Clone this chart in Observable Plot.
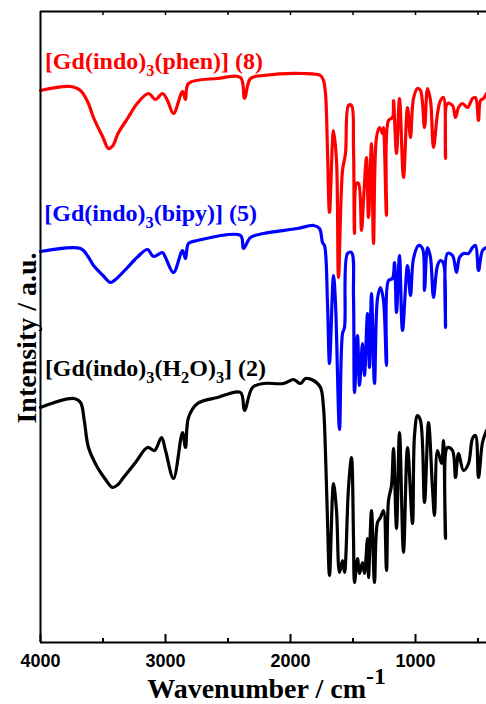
<!DOCTYPE html>
<html><head><meta charset="utf-8">
<script src="https://cdn.jsdelivr.net/npm/d3@7"></script>
<script src="https://cdn.jsdelivr.net/npm/@observablehq/plot@0.6"></script>
<style>body{margin:0;background:#fff}#chart{width:486px;height:704px;overflow:hidden}</style>
</head><body><div id="chart"></div>
<script>
// Series names and colours
const seriesNames = ["[Gd(indo)_3(phen)] (8)", "[Gd(indo)_3(bipy)] (5)", "[Gd(indo)_3(H_2O)_3] (2)"];
const seriesColors = ["#ff0000", "#0000ff", "#000000"];
const labelWn = [3965, 3970, 3965];
const labelInt = [574, 422, 267];

// Wavenumber (cm-1) and intensity (a.u., offset) per series
const wnPhen = [4000,3760,3680,3620,3576,3500,3456,3420,3380,3304,3220,3136,3080,3024,2984,2936,2864,2840,2816,2584,2400,2368,2320,2216,1896,1760,1736,1720,1704,1688,1656,1632,1616,1584,1560,1536,1512,1496,1488,1472,1456,1432,1416,1392,1376,1352,1336,1312,1288,1264,1256,1232,1216,1184,1176,1152,1128,1096,1064,1040,1016,984,960,928,904,880,856,824,800,776,760,744,704,680,656,624,584,544,520,496,480,456,432];
const intPhen = [552,556,552,540,525,505,494,497,509,524,540,549,543,549,542,529,551,543,559,564,565,544,564,567,569,567,562,549,492,430,512,482,365,472,489,537,537,495,409,459,459,412,442,485,425,499,399,505,515,509,515,427,522,525,542,489,544,465,535,505,544,554,552,515,554,542,495,529,542,545,484,539,537,525,535,539,535,544,545,522,542,544,549];

const wnBipy = [4000,3680,3620,3576,3500,3440,3400,3304,3220,3144,3096,3024,3000,2936,2864,2840,2816,2744,2400,2376,2320,2216,1944,1816,1768,1744,1728,1704,1688,1656,1640,1608,1584,1568,1544,1512,1496,1488,1464,1448,1424,1408,1384,1368,1352,1328,1304,1280,1256,1232,1216,1184,1168,1152,1128,1104,1064,1040,1016,976,944,928,904,880,856,824,800,776,760,744,704,672,648,616,576,544,520,496,464,432];
const intBipy = [391,394,386,377,367,360,363,375,386,393,386,390,385,370,392,384,399,402,407,394,405,409,414,417,414,400,397,339,279,367,339,213,309,315,389,390,345,250,307,257,299,267,329,275,349,259,344,355,342,277,362,364,380,330,387,312,377,347,384,397,394,352,395,385,345,377,382,379,315,389,387,370,385,389,389,395,397,372,392,395];

const wnH2O = [4000,3736,3680,3650,3616,3544,3480,3424,3380,3336,3240,3144,3088,3032,3000,2936,2864,2840,2816,2744,2584,2400,2368,2304,2216,2056,1976,1920,1880,1816,1760,1736,1720,1704,1688,1656,1632,1608,1584,1568,1536,1512,1496,1488,1464,1448,1424,1408,1384,1376,1352,1328,1304,1280,1256,1232,1216,1192,1176,1152,1128,1096,1064,1024,1008,984,960,928,896,864,848,824,792,776,760,744,704,680,656,616,576,544,520,496,464,432];
const intH2O = [235,244,240,222,195,175,163,155,158,165,180,195,192,205,192,164,210,195,225,239,245,250,232,255,259,259,263,259,264,262,255,235,189,122,67,159,132,70,82,70,155,185,105,60,84,69,80,69,104,65,132,60,120,125,132,72,142,157,194,114,210,90,195,119,207,227,222,140,220,154,127,192,179,202,104,195,192,165,189,172,179,204,207,165,200,212];

// Axis ticks
const majorTicks = [4000, 3000, 2000, 1000];
const minorTicks = [3500, 2500, 1500, 500];
const allTicks = [4000, 3500, 3000, 2500, 2000, 1500, 1000, 500];
const xTitle = "Wavenumber / cm^{-1}";
const yTitle = "Intensity / a.u.";

const wnLists = [wnPhen, wnBipy, wnH2O];
const intLists = [intPhen, intBipy, intH2O];
const rows = [];
seriesNames.forEach((name, k) => {
  wnLists[k].forEach((w, i) => rows.push({series: name, wn: w, val: intLists[k][i]}));
});
const labels = seriesNames.map((name, k) => ({name, wn: labelWn[k], val: labelInt[k], color: seriesColors[k]}));

const serif = "'Liberation Serif','Times New Roman',serif";
const sans = "'Liberation Sans',Arial,sans-serif";

const chart = Plot.plot({
  width: 486, height: 704,
  marginLeft: 40, marginRight: 0, marginTop: 11, marginBottom: 62,
  x: {domain: [4000, 432], axis: null},
  y: {domain: [0, 631], axis: null},
  color: {domain: seriesNames, range: seriesColors},
  marks: [
    Plot.lineY(rows, {x: "wn", y: "val", z: "series", stroke: "series", strokeWidth: 3.2, curve: "catmull-rom", strokeLinejoin: "round", strokeLinecap: "round"}),
    Plot.ruleY([0], {stroke: "#000", strokeWidth: 2}),
    Plot.ruleY([631], {stroke: "#000", strokeWidth: 2}),
    Plot.ruleX([4000], {y1: 0, y2: 631, stroke: "#000", strokeWidth: 2}),
    Plot.ruleX(majorTicks, {y1: 0, y2: 8, stroke: "#000", strokeWidth: 2}),
    Plot.ruleX(minorTicks, {y1: 0, y2: 4, stroke: "#000", strokeWidth: 2}),
    Plot.ruleX(allTicks.filter(d => d !== 4000), {y1: 627, y2: 631, stroke: "#000", strokeWidth: 1.5}),
    Plot.text(majorTicks, {x: d => d, y: 0, dy: 24, text: d => String(d), lineAnchor: "bottom", fontFamily: sans, fontWeight: "bold", fontSize: 18, fill: "#000"}),
    Plot.text(labels, {x: "wn", y: "val", text: "name", fill: d => d.color, textAnchor: "start", lineAnchor: "bottom", fontFamily: serif, fontWeight: "bold", fontSize: 24}),
    Plot.text([xTitle], {frameAnchor: "bottom", dy: 55, dx: 3, lineAnchor: "bottom", fontFamily: serif, fontWeight: "bold", fontSize: 28, fill: "#000"}),
    Plot.text([yTitle], {frameAnchor: "left", rotate: -90, dx: -5, dy: 11, lineAnchor: "bottom", textAnchor: "middle", fontFamily: serif, fontWeight: "bold", fontSize: 28, fill: "#000"})
  ]
});
document.getElementById("chart").appendChild(chart);

// Render sub/superscripts
const NS = "http://www.w3.org/2000/svg";
function rich(el) {
  const str = el.textContent;
  if (!/[_^]/.test(str)) return;
  const fs = parseFloat(getComputedStyle(el).fontSize) || 20;
  el.textContent = "";
  const re = /([_^])(\{[^}]*\}|.)/g;
  let last = 0, shift = 0, m;
  const add = (t, s, small) => {
    const ts = document.createElementNS(NS, "tspan");
    ts.textContent = t;
    const dy = s - shift;
    if (dy) ts.setAttribute("dy", dy);
    shift = s;
    if (small) ts.setAttribute("font-size", small);
    el.appendChild(ts);
  };
  while ((m = re.exec(str))) {
    if (m.index > last) add(str.slice(last, m.index), 0);
    let t = m[2];
    if (t[0] === "{") t = t.slice(1, -1);
    if (m[1] === "_") add(t, fs * 0.3, fs * 0.68);
    else add(t, -fs * 0.5, fs * 0.85);
    last = re.lastIndex;
  }
  if (last < str.length) add(str.slice(last), 0);
}
chart.querySelectorAll("text").forEach(rich);
</script>
</body></html>
